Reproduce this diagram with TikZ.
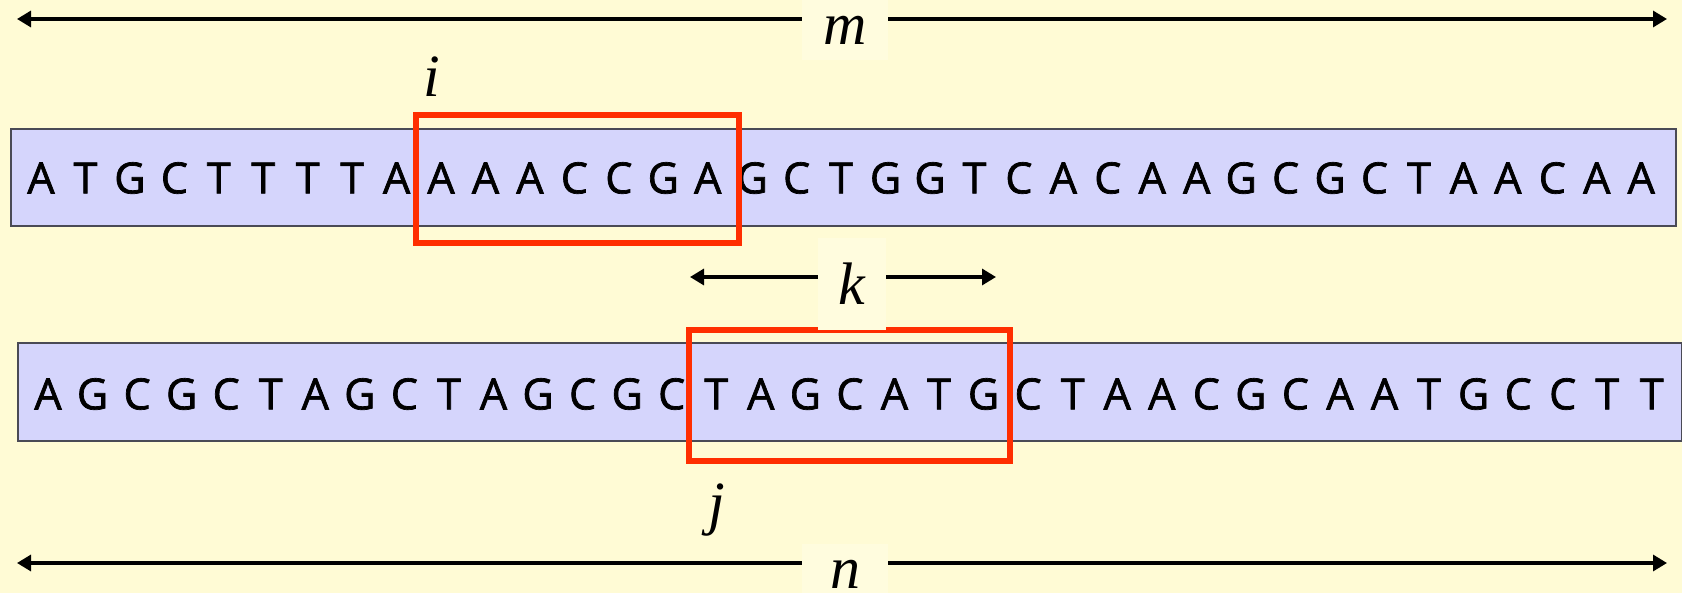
\documentclass[tikz,border=0pt]{standalone}
\usepackage{fontspec}
\setmainfont{Liberation Serif}
\newfontfamily\seqfont[FakeBold=1.6]{Open Sans}
\usetikzlibrary{arrows.meta}
\definecolor{bg}{HTML}{FFFBD5}
\definecolor{lbl}{HTML}{FFFCDE}
\definecolor{seqfill}{HTML}{D5D5FC}
\definecolor{hl}{HTML}{FF2E00}
\definecolor{edge}{HTML}{4A4A55}
\tikzset{
  seqbox/.style={draw=edge, line width=1pt, fill=seqfill, inner sep=0pt},
  base/.style={inner sep=0pt, font=\seqfont\fontsize{21.5}{24}\selectfont},
  hlbox/.style={draw=hl, line width=2.6pt, inner sep=0pt},
  var/.style={inner sep=0pt, font=\fontsize{30}{34}\selectfont\itshape},
  gaplbl/.style={var, fill=lbl, minimum width=43pt},
  dim/.style={line width=1.6pt, -{Triangle[length=7pt,width=8pt]}},
}
\begin{document}
\begin{tikzpicture}[x=0.5pt,y=-0.5pt]
\fill[bg] (0,0) rectangle (1682,593);
\useasboundingbox (0,0) rectangle (1682,593);

% sequence boxes
\node[seqbox, minimum width=832.5pt, minimum height=48.5pt] (s1) at (843.5,177.5) {};
\node[seqbox, minimum width=832pt, minimum height=49pt] (s2) at (850,392) {};

% letters
\foreach \c [count=\n from 0] in {A,T,G,C,T,T,T,T,A,A,A,A,C,C,G,A,G,C,T,G,G,T,C,A,C,A,A,G,C,G,C,T,A,A,C,A,A}
  \node[base] (a\n) at ({41+\n*44.45},178) {\c};
\foreach \c [count=\n from 0] in {A,G,C,G,C,T,A,G,C,T,A,G,C,G,C,T,A,G,C,A,T,G,C,T,A,A,C,G,C,A,A,T,G,C,C,T,T}
  \node[base] (b\n) at ({48+\n*44.55},394) {\c};

% highlight boxes
\node[hlbox, minimum width=161.5pt, minimum height=64pt] (ri) at (577.5,179) {};
\node[hlbox, minimum width=160.5pt, minimum height=65.5pt] (rj) at (849.5,395.5) {};

% labels i, j
\node[var] (i) at (432,77) {i};
\node[var] (j) at (717,510) {j};

% dimension m
\coordinate (mL) at (17,19);
\coordinate (mR) at (1667,19);
\node[gaplbl, minimum height=30pt] (m) at (845,30) {m};
\draw[dim] (m.west |- mL) -- (mL);
\draw[dim] (m.east |- mR) -- (mR);

% dimension k
\coordinate (kL) at (690,277);
\coordinate (kR) at (996,277);
\node[gaplbl, minimum width=34pt, minimum height=46pt] (k) at (852,284) {k};
\draw[dim] (k.west |- kL) -- (kL);
\draw[dim] (k.east |- kR) -- (kR);

% dimension n
\coordinate (nL) at (17,563);
\coordinate (nR) at (1667,563);
\node[gaplbl, minimum height=30pt] (n) at (845,574) {n};
\draw[dim] (n.west |- nL) -- (nL);
\draw[dim] (n.east |- nR) -- (nR);
\end{tikzpicture}
\end{document}
